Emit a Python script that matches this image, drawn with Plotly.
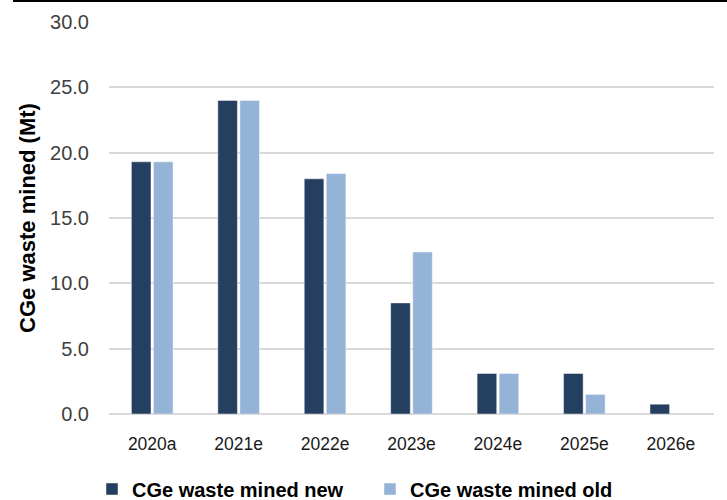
import plotly.graph_objects as go

categories = ["2020a", "2021e", "2022e", "2023e", "2024e", "2025e", "2026e"]
waste_new = [19.3, 24.0, 18.0, 8.5, 3.1, 3.1, 0.75]
waste_old = [19.3, 24.0, 18.4, 12.4, 3.1, 1.5, None]
y_ticks = [0, 5, 10, 15, 20, 25, 30]

fig = go.Figure()
fig.add_trace(go.Bar(
    x=categories, y=waste_new, name="CGe waste mined new",
    marker=dict(color="#253F60", line=dict(color="rgba(255,255,255,0.45)", width=1)),
))
fig.add_trace(go.Bar(
    x=categories, y=waste_old, name="CGe waste mined old",
    marker=dict(color="#95B3D7", line=dict(color="rgba(255,255,255,0.45)", width=1)),
))

fig.update_layout(
    width=727, height=500,
    margin=dict(l=109, r=13, t=22, b=86, autoexpand=False),
    paper_bgcolor="white", plot_bgcolor="white",
    barmode="group", bargap=0.49, bargroupgap=0.11,
    font=dict(family="Liberation Sans, Arial, sans-serif", color="#404040"),
    showlegend=True,
    legend=dict(
        orientation="h", x=(92 - 109) / 605, xanchor="left",
        y=-(489 - 414) / 392, yanchor="middle",
        font=dict(size=20, color="#000000", weight="bold",
                  family="Liberation Sans, Arial, sans-serif"),
        itemwidth=30, traceorder="normal",
        entrywidth=233, bgcolor="rgba(0,0,0,0)",
    ),
    xaxis=dict(
        type="category", showgrid=False, showline=False, zeroline=False,
        ticks="", tickfont=dict(size=17.5, color="#1a1a1a"),
        ticklabelstandoff=17,
    ),
    yaxis=dict(
        range=[0, 30], tickvals=y_ticks, tickformat=".1f",
        showgrid=True, gridcolor="#D9D9D9", gridwidth=1.5,
        zeroline=True, zerolinecolor="#D9D9D9", zerolinewidth=2,
        showline=False, ticks="",
        tickfont=dict(size=20, color="#404040"),
        ticklabelstandoff=19,
        title=dict(text="CGe waste mined (Mt)",
                   font=dict(size=22, color="#000000", weight="bold"), standoff=8),
    ),
    shapes=[dict(
        type="line", xref="paper", yref="paper",
        x0=(13 - 109) / 605, x1=(727 - 109) / 605, y0=1 + 21 / 392, y1=1 + 21 / 392,
        line=dict(color="#000000", width=2),
    )],
)

fig.write_html("out.html")
